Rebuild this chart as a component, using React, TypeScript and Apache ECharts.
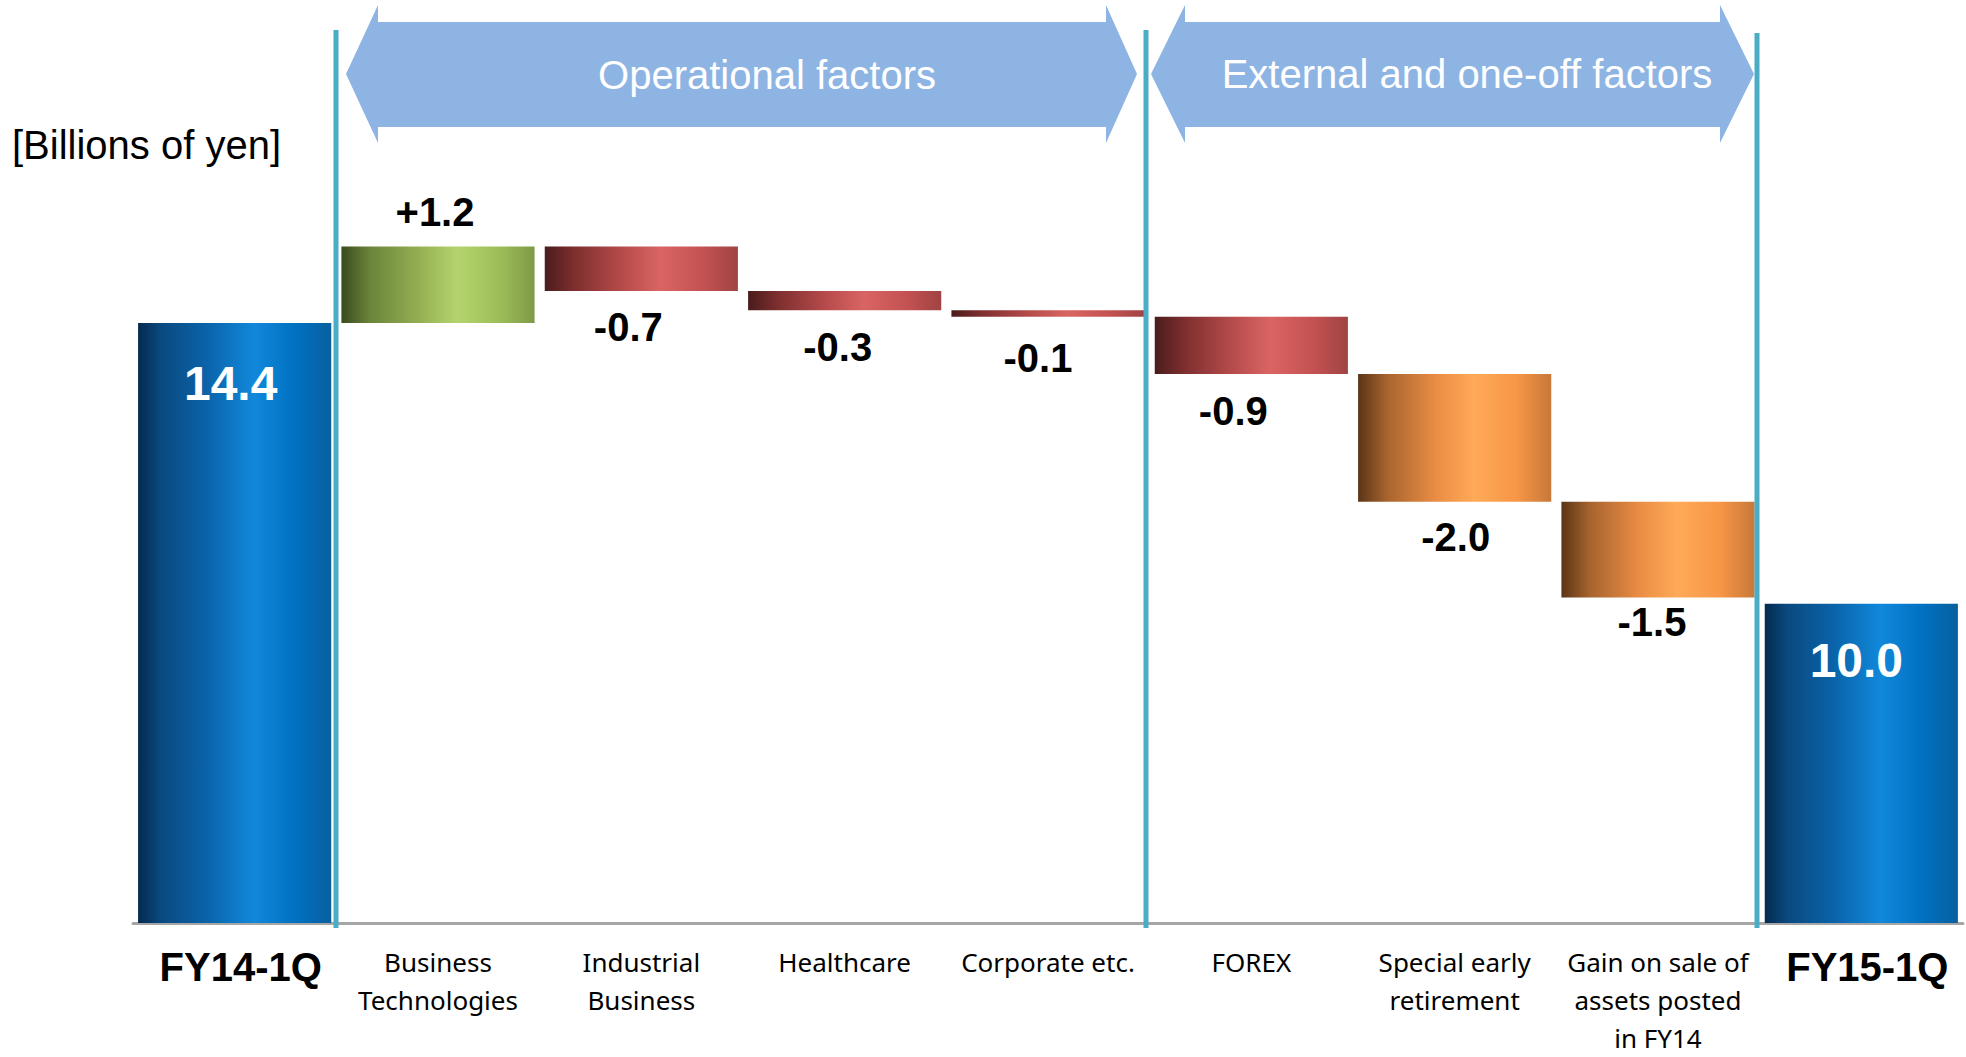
import React, { useEffect, useRef } from "react";
import * as echarts from "echarts";

// ---- data ----
const categories = [
  "FY14-1Q",
  "Business\nTechnologies",
  "Industrial\nBusiness",
  "Healthcare",
  "Corporate etc.",
  "FOREX",
  "Special early\nretirement",
  "Gain on sale of\nassets posted\nin FY14",
  "FY15-1Q",
];
const startValue = 14.4;
const endValue = 10.0;
const deltas = [1.2, -0.7, -0.3, -0.1, -0.9, -2.0, -1.5];
const deltaKinds = ["up", "down", "down", "down", "down", "oneoff", "oneoff"];
const unitLabel = "[Billions of yen]";
const groupLabels = ["Operational factors", "External and one-off factors"];
const yMin = 5;
const yMax = 16.5;

// ---- styles ----
const grad = (stops: [number, string][]) => ({
  type: "linear",
  x: 0,
  y: 0,
  x2: 1,
  y2: 0,
  colorStops: stops.map(([offset, color]) => ({ offset, color })),
});
const fills: Record<string, any> = {
  total: grad([
    [0, "#042a4e"],
    [0.12, "#0a4a80"],
    [0.35, "#0a62a8"],
    [0.6, "#1188db"],
    [0.82, "#0070c0"],
    [1, "#08609f"],
  ]),
  up: grad([
    [0, "#3a4a1e"],
    [0.15, "#6b853a"],
    [0.4, "#94af52"],
    [0.6, "#b5d46e"],
    [0.82, "#9dbd58"],
    [1, "#7f9a48"],
  ]),
  down: grad([
    [0, "#4a1c1c"],
    [0.15, "#7d2e2e"],
    [0.4, "#b64b4b"],
    [0.6, "#d96563"],
    [0.82, "#c45252"],
    [1, "#a04343"],
  ]),
  oneoff: grad([
    [0, "#5a3516"],
    [0.15, "#a8642e"],
    [0.4, "#e98c44"],
    [0.6, "#ffaa58"],
    [0.82, "#f79646"],
    [1, "#c7783a"],
  ]),
};
// per-delta label tweaks: [x offset, distance]
const deltaLabelTweaks: [number, number][] = [
  [-3, 14],
  [-13, 16],
  [-7, 17],
  [-10, 21],
  [-18, 17],
  [1, 15],
  [-6, 5],
];

const ARIAL = "'Liberation Sans', Arial, sans-serif";

function buildOption() {
  const baseData: number[] = [0];
  const visData: any[] = [];
  visData.push({
    value: startValue,
    itemStyle: { color: fills.total },
    label: {
      show: true,
      position: "insideTop",
      distance: 36,
      offset: [-4, 0],
      formatter: startValue.toFixed(1),
      color: "#fff",
      fontFamily: ARIAL,
      fontWeight: "bold",
      fontSize: 48,
      lineHeight: 48,
    },
  });
  let running = startValue;
  deltas.forEach((d, i) => {
    const after = Math.round((running + d) * 10) / 10;
    baseData.push(Math.min(running, after));
    const [ox, dist] = deltaLabelTweaks[i];
    visData.push({
      value: Math.abs(d),
      itemStyle: { color: fills[deltaKinds[i]] },
      label: {
        show: true,
        position: d >= 0 ? "top" : "bottom",
        distance: dist,
        offset: [ox, 0],
        formatter: (d >= 0 ? "+" : "-") + Math.abs(d).toFixed(1),
        color: "#000",
        fontFamily: ARIAL,
        fontWeight: "bold",
        fontSize: 40,
        lineHeight: 40,
      },
    });
    running = after;
  });
  baseData.push(0);
  visData.push({
    value: endValue,
    itemStyle: { color: fills.total },
    label: {
      show: true,
      position: "insideTop",
      distance: 33,
      offset: [-5, 0],
      formatter: endValue.toFixed(1),
      color: "#fff",
      fontFamily: ARIAL,
      fontWeight: "bold",
      fontSize: 48,
      lineHeight: 48,
    },
  });

  const last = categories.length - 1;
  const arrowColor = "#8EB4E3";
  const teal = "#4BACC6";
  const arrow = (l: number, lb: number, rb: number, r: number) => ({
    type: "polygon",
    z: 5,
    shape: {
      points: [
        [l, 74],
        [lb, 5],
        [lb, 22],
        [rb, 22],
        [rb, 5],
        [r, 74],
        [rb, 143],
        [rb, 127],
        [lb, 127],
        [lb, 143],
      ],
    },
    style: { fill: arrowColor },
  });
  const vline = (x: number, y1: number) => ({
    type: "line",
    z: 10,
    shape: { x1: x, y1, x2: x, y2: 928 },
    style: { stroke: teal, lineWidth: 5 },
  });
  const label = (text: string, x: number, y: number, color: string) => ({
    type: "text",
    z: 11,
    x,
    y,
    style: {
      text,
      fill: color,
      fontFamily: ARIAL,
      fontSize: 40,
      textAlign: "center",
      textVerticalAlign: "middle",
      verticalAlign: "middle",
    },
  });

  return {
    animation: false,
    backgroundColor: "#fff",
    grid: { left: 133, right: 3, top: 189, bottom: 127, containLabel: false },
    xAxis: {
      type: "category",
      data: categories,
      axisTick: { show: false },
      axisLine: { show: true, lineStyle: { color: "#a6a6a6", width: 3 } },
      axisLabel: {
        interval: 0,
        margin: 20,
        color: "#000",
        fontFamily: "'Noto Sans', sans-serif",
        fontSize: 26,
        lineHeight: 38,
        formatter: (v: string, i: number) =>
          i === 0 || i === last ? `{b|${v}}` : v,
        rich: {
          b: {
            fontFamily: ARIAL,
            fontWeight: "bold",
            fontSize: 40,
            lineHeight: 48,
            color: "#000",
            padding: [0, 0, 0, 12],
          },
        },
      },
    },
    yAxis: {
      type: "value",
      min: yMin,
      max: yMax,
      show: false,
      splitLine: { show: false },
    },
    series: [
      {
        name: "base",
        type: "bar",
        stack: "w",
        barWidth: "95%",
        itemStyle: { color: "transparent" },
        emphasis: { disabled: true },
        silent: true,
        data: baseData,
      },
      {
        name: "value",
        type: "bar",
        stack: "w",
        barWidth: "95%",
        data: visData,
      },
    ],
    graphic: [
      {
        type: "text",
        x: 12,
        y: 145,
        style: {
          text: unitLabel,
          fill: "#000",
          fontFamily: ARIAL,
          fontSize: 40,
          textVerticalAlign: "middle",
          verticalAlign: "middle",
        },
      },
      arrow(346, 378, 1106, 1137),
      arrow(1151, 1185, 1720, 1754),
      label(groupLabels[0], 767, 75, "#fff"),
      label(groupLabels[1], 1467, 74, "#fff"),
      vline(336, 30),
      vline(1146, 30),
      vline(1757, 33),
    ],
  };
}

export default function App() {
  const ref = useRef<HTMLDivElement>(null);
  useEffect(() => {
    if (!ref.current) return;
    const chart = echarts.init(ref.current, undefined, { renderer: "svg" });
    chart.setOption(buildOption() as any);
    return () => chart.dispose();
  }, []);
  return (
    <div
      ref={ref}
      style={{
        position: "fixed",
        left: 0,
        top: 0,
        width: 1966,
        height: 1057,
        background: "#fff",
      }}
    />
  );
}
